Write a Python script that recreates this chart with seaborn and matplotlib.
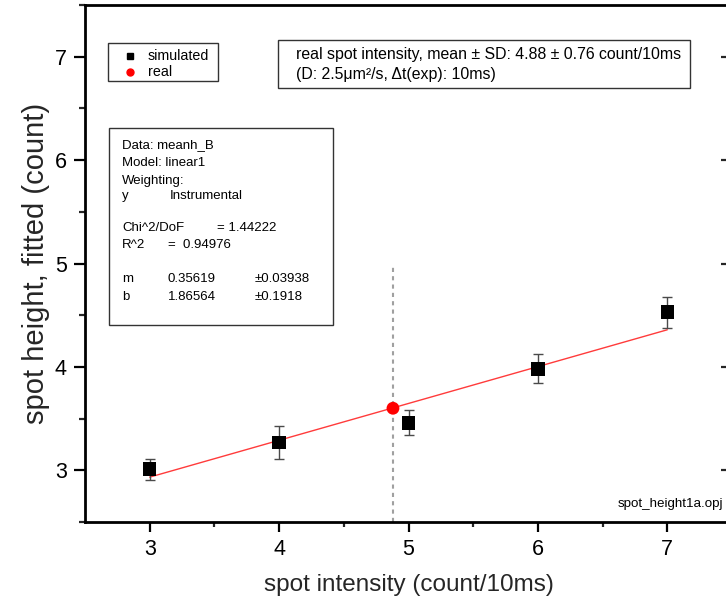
import numpy as np
import pandas as pd
import matplotlib
matplotlib.use("Agg")
import matplotlib.pyplot as plt
from matplotlib.patches import Rectangle
from matplotlib.lines import Line2D
import seaborn as sns

# ---- data ----
sim_x = [3, 4, 5, 6, 7]
sim_y = [3.01, 3.27, 3.46, 3.98, 4.53]
sim_err = [0.10, 0.16, 0.12, 0.14, 0.15]
real_x = [4.88]
real_y = [3.60]
fit_x = [3.0, 7.0]
fit_y = [2.934, 4.359]
mean_x = 4.88
mean_line_top = 5.0
x_ticks = [3, 4, 5, 6, 7]
y_ticks = [3, 4, 5, 6, 7]

sns.set_theme(style="white")
plt.rcParams['font.family'] = ['Liberation Sans', 'DejaVu Sans']

W, H = 726, 606
fig = plt.figure(figsize=(W / 100, H / 100), dpi=100)
L, R, T, B = 85, 732, 5, 522
ax = fig.add_axes([L / W, 1 - B / H, (R - L) / W, (B - T) / H])

pts = pd.DataFrame({
    "x": sim_x + real_x,
    "y": sim_y + real_y,
    "kind": ["simulated"] * len(sim_x) + ["real"] * len(real_x),
})

# vertical dashed line at the mean
ax.plot([mean_x, mean_x], [2.5, mean_line_top], color="#a0a0a0", lw=1.5,
        ls=(0, (2, 2)), zorder=1)

# fit line
sns.lineplot(x=fit_x, y=fit_y, ax=ax, color="#ff3b3b", lw=1.0, zorder=2)

# error bars
ax.errorbar(sim_x, sim_y, yerr=sim_err, fmt="none", ecolor="#4a4a4a",
            elinewidth=1.0, capsize=3.8, capthick=1.0, zorder=3)

sns.scatterplot(data=pts, x="x", y="y", hue="kind", style="kind", size="kind",
                palette={"simulated": "black", "real": "#ff0000"},
                markers={"simulated": "s", "real": "o"},
                sizes={"simulated": 95, "real": 85},
                edgecolor="none", ax=ax, legend=False, zorder=4)

ax.set_xlim(2.5, 7.5)
ax.set_ylim(2.5, 7.5)
ax.set_xticks(x_ticks)
ax.set_yticks(y_ticks)
ax.set_xticks([3.5, 4.5, 5.5, 6.5, 7.5], minor=True)
ax.set_yticks([2.5, 3.5, 4.5, 5.5, 6.5, 7.5], minor=True)
ax.set_xticklabels([str(v) for v in x_ticks])
ax.set_yticklabels([str(v) for v in y_ticks])

for s in ["left", "bottom", "top", "right"]:
    ax.spines[s].set_color("black")
    ax.spines[s].set_linewidth(2.0)

ax.tick_params(axis="y", which="major", direction="out", length=8, width=1.6,
               labelsize=15.5, pad=5, left=True, right=False, colors="black")
ax.tick_params(axis="y", which="minor", direction="out", length=4.5, width=1.6,
               left=True, right=False)
ax.tick_params(axis="x", which="major", direction="out", length=7, width=1.6,
               labelsize=15.5, pad=5, bottom=True, top=False, colors="black")
ax.tick_params(axis="x", which="minor", direction="out", length=3.5, width=1.6,
               bottom=True, top=False)

sec = ax.secondary_yaxis("right")
sec.set_yticks(y_ticks)
sec.tick_params(direction="in", length=8, width=1.6, labelright=False)

ax.set_xlabel("spot intensity (count/10ms)", fontsize=17.5, labelpad=10)
ax.set_ylabel("spot height, fitted (count)", fontsize=21, labelpad=3.5)


def fx(x):
    return x / W


def fy(y):
    return 1 - y / H


def box(x0, y0, x1, y1):
    fig.patches.append(Rectangle((fx(x0), fy(y1)), fx(x1) - fx(x0), fy(y0) - fy(y1),
                                 transform=fig.transFigure, fill=True,
                                 facecolor="white", edgecolor="#333333", lw=1.0,
                                 zorder=5))


def txt(x, y, s, size=9.5):
    fig.text(fx(x), fy(y), s, fontsize=size, ha="left", va="center",
             color="black", zorder=6)


# legend
box(108, 43, 218, 81)
fig.add_artist(Line2D([fx(130)], [fy(56)], marker="s", color="black",
                      markersize=4.5, ls="none", transform=fig.transFigure, zorder=6))
fig.add_artist(Line2D([fx(130)], [fy(72)], marker="o", color="#ff0000",
                      markersize=5, ls="none", transform=fig.transFigure, zorder=6))
txt(148, 56, "simulated", 10.3)
txt(148, 72, "real", 10.3)

# info box
box(278, 40, 690, 88)
txt(296, 55, "real spot intensity, mean \u00b1 SD: 4.88 \u00b1 0.76 count/10ms", 11.4)
txt(296, 75, "(D: 2.5\u03bcm\u00b2/s, \u0394t(exp): 10ms)", 11.4)

# fit stats box
box(109, 128, 333, 325)
txt(122, 145, "Data: meanh_B")
txt(122, 163, "Model: linear1")
txt(122, 181, "Weighting:")
txt(122, 196, "y")
txt(170, 196, "Instrumental")
txt(122, 228, "Chi^2/DoF")
txt(217, 228, "= 1.44222")
txt(122, 245, "R^2")
txt(168, 245, "=  0.94976")
txt(122, 279, "m")
txt(168, 279, "0.35619")
txt(255, 279, "\u00b10.03938")
txt(122, 297, "b")
txt(168, 297, "1.86564")
txt(255, 297, "\u00b10.1918")

txt(618, 504, "spot_height1a.opj", 9.6)

fig.savefig("out.png", dpi=100)
